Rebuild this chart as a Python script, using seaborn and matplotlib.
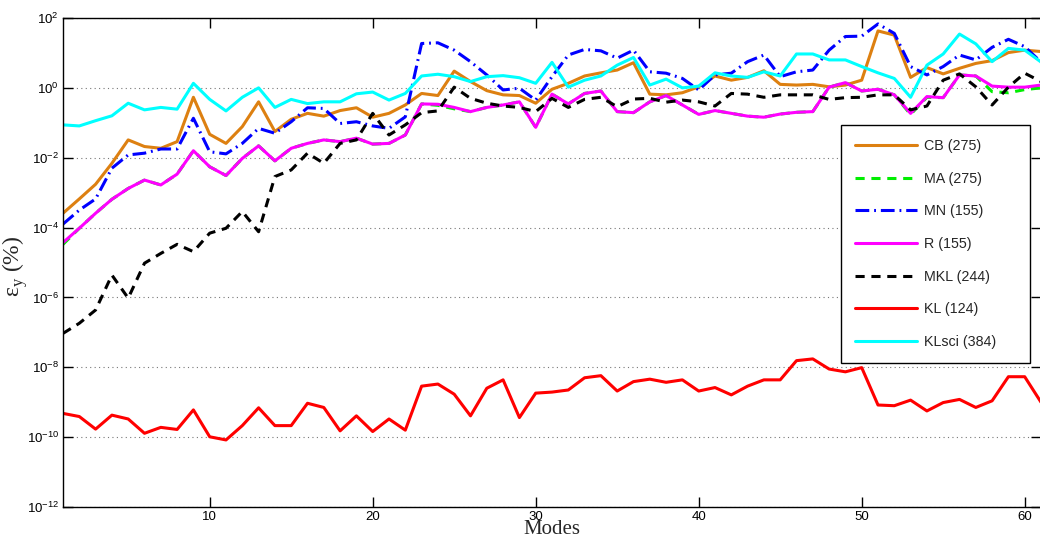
import numpy as np
import pandas as pd
import matplotlib
matplotlib.use("Agg")
import matplotlib.pyplot as plt
import seaborn as sns
from matplotlib.ticker import LogFormatterSciNotation, NullLocator, FixedLocator

# ---------------- data (log10 of error) ----------------
modes = list(range(1, 62))

cb_log10 = [-3.59, -3.18, -2.76, -2.16, -1.49, -1.68, -1.73, -1.54, -0.27, -1.33,
            -1.59, -1.11, -0.40, -1.25, -0.90, -0.73, -0.81, -0.65, -0.57, -0.84,
            -0.73, -0.49, -0.16, -0.22, 0.48, 0.18, -0.08, -0.20, -0.22, -0.44,
            -0.04, 0.13, 0.34, 0.43, 0.51, 0.72, -0.18, -0.20, -0.14, 0.03,
            0.34, 0.22, 0.30, 0.49, 0.10, 0.08, 0.10, 0.03, 0.08, 0.22,
            1.63, 1.51, 0.30, 0.58, 0.40, 0.56, 0.70, 0.78, 1.01, 1.08, 1.04]

ma_log10 = [-4.48, -4.02, -3.59, -3.19, -2.88, -2.64, -2.78, -2.47, -1.80, -2.26,
            -2.51, -2.02, -1.66, -2.09, -1.73, -1.59, -1.49, -1.54, -1.44, -1.61,
            -1.59, -1.35, -0.46, -0.50, -0.60, -0.68, -0.56, -0.49, -0.40, -1.13,
            -0.18, -0.46, -0.16, -0.09, -0.68, -0.71, -0.40, -0.22, -0.49, -0.76,
            -0.65, -0.73, -0.81, -0.84, -0.75, -0.70, -0.68, 0.02, 0.15, -0.09,
            -0.04, -0.20, -0.76, -0.27, -0.28, 0.37, 0.34, -0.11, -0.14, -0.05, 0.00]

mn_log10 = [-3.90, -3.50, -3.18, -2.30, -1.92, -1.87, -1.75, -1.75, -0.87, -1.83,
            -1.89, -1.59, -1.16, -1.30, -0.97, -0.57, -0.59, -1.02, -0.97, -1.09,
            -1.16, -0.83, 1.27, 1.29, 1.08, 0.75, 0.37, -0.06, -0.01, -0.35,
            0.32, 0.94, 1.10, 1.06, 0.85, 1.08, 0.46, 0.42, 0.27, -0.06,
            0.37, 0.42, 0.75, 0.94, 0.32, 0.46, 0.51, 1.08, 1.47, 1.48,
            1.83, 1.56, 0.61, 0.37, 0.61, 0.94, 0.80, 1.16, 1.39, 1.18, 0.74]

r_log10 = [-4.43, -4.02, -3.59, -3.19, -2.88, -2.64, -2.78, -2.47, -1.80, -2.26,
           -2.51, -2.02, -1.66, -2.09, -1.73, -1.59, -1.49, -1.54, -1.44, -1.61,
           -1.59, -1.35, -0.46, -0.47, -0.56, -0.68, -0.56, -0.49, -0.40, -1.13,
           -0.18, -0.46, -0.16, -0.09, -0.68, -0.71, -0.40, -0.22, -0.49, -0.76,
           -0.65, -0.73, -0.81, -0.84, -0.75, -0.70, -0.68, 0.02, 0.15, -0.09,
           -0.04, -0.20, -0.73, -0.25, -0.28, 0.37, 0.34, 0.05, 0.02, 0.02, 0.08]

mkl_log10 = [-7.03, -6.74, -6.36, -5.36, -6.02, -5.02, -4.74, -4.48, -4.69, -4.16,
             -4.02, -3.54, -4.12, -2.54, -2.35, -1.87, -2.16, -1.59, -1.49, -0.73,
             -1.35, -1.06, -0.71, -0.66, 0.02, -0.30, -0.44, -0.52, -0.56, -0.68,
             -0.30, -0.56, -0.33, -0.27, -0.54, -0.32, -0.30, -0.41, -0.35, -0.40,
             -0.52, -0.16, -0.18, -0.27, -0.20, -0.20, -0.20, -0.33, -0.28, -0.27,
             -0.20, -0.20, -0.63, -0.52, 0.22, 0.40, 0.03, -0.49, 0.02, 0.42, 0.18]

kl_log10 = [-9.32, -9.41, -9.77, -9.37, -9.48, -9.89, -9.72, -9.78, -9.22, -9.99,
            -10.08, -9.67, -9.16, -9.67, -9.67, -9.03, -9.15, -9.82, -9.39, -9.84,
            -9.48, -9.80, -8.54, -8.48, -8.77, -9.39, -8.60, -8.36, -9.44, -8.74,
            -8.71, -8.65, -8.30, -8.24, -8.68, -8.41, -8.34, -8.43, -8.36, -8.68,
            -8.58, -8.79, -8.54, -8.36, -8.36, -7.81, -7.76, -8.05, -8.13, -8.01,
            -9.08, -9.10, -8.94, -9.25, -9.01, -8.92, -9.15, -8.96, -8.27, -8.27, -9.00]

klsci_log10 = [-1.06, -1.09, -0.94, -0.80, -0.44, -0.63, -0.56, -0.61, 0.13, -0.33,
               -0.66, -0.27, 0.00, -0.56, -0.33, -0.45, -0.40, -0.40, -0.17, -0.12,
               -0.35, -0.16, 0.34, 0.39, 0.32, 0.18, 0.32, 0.35, 0.29, 0.13,
               0.73, 0.02, 0.22, 0.34, 0.65, 0.87, 0.08, 0.25, 0.00, 0.05,
               0.43, 0.34, 0.30, 0.46, 0.34, 0.97, 0.97, 0.80, 0.80, 0.61,
               0.43, 0.27, -0.27, 0.65, 0.97, 1.54, 1.26, 0.75, 1.13, 1.08, 0.74]

labels = ["CB (275)", "MA (275)", "MN (155)", "R (155)", "MKL (244)", "KL (124)", "KLsci (384)"]
series = [cb_log10, ma_log10, mn_log10, r_log10, mkl_log10, kl_log10, klsci_log10]
colors = ["#DD8011", "#00EE00", "#0000FF", "#FF00FF", "#000000", "#FF0000", "#00FFFF"]
dashes = [None, (3.0, 2.2), (4.5, 1.6, 0.6, 1.6), None, (3.0, 2.2), None, None]
ytick_exponents = [-12, -10, -8, -6, -4, -2, 0, 2]
xtick_values = [10, 20, 30, 40, 50, 60]

# ---------------- styling ----------------
sns.set_style("ticks")
plt.rcParams["font.family"] = ["Liberation Sans", "DejaVu Sans"]
plt.rcParams["axes.unicode_minus"] = True

fig = plt.figure(figsize=(10.40, 5.39), dpi=100)
ax = fig.add_axes([63 / 1040, 1 - 507 / 539, (1041 - 63) / 1040, (507 - 18) / 539])

lw = 2.2
for lab, vals, col, dsh in zip(labels, series, colors, dashes):
    df = pd.DataFrame({"Modes": modes, "err": np.power(10.0, vals)})
    kw = {}
    if dsh is not None:
        kw["dashes"] = dsh
    sns.lineplot(data=df, x="Modes", y="err", ax=ax, color=col, lw=lw, label=lab, **kw)

ax.set_yscale("log")
ax.set_xlim(1, 61)
ax.set_ylim(1e-12, 1e2)
ax.yaxis.set_major_locator(FixedLocator([10.0 ** e for e in ytick_exponents]))
ax.yaxis.set_major_formatter(LogFormatterSciNotation())
ax.yaxis.set_minor_locator(NullLocator())
ax.set_xticks(xtick_values)
ax.xaxis.set_minor_locator(NullLocator())

ax.tick_params(axis="both", which="major", direction="in", length=7, width=1,
               top=True, right=True, labelsize=9.5, pad=3, colors="black")
for sp in ax.spines.values():
    sp.set_color("black")
    sp.set_linewidth(1.0)
    sp.set_visible(True)

ax.yaxis.grid(True, linestyle=(0, (1, 3)), color="#777777", linewidth=0.8)
ax.xaxis.grid(False)

ax.set_xlabel("Modes", family="Liberation Serif", fontsize=15)
ax.xaxis.set_label_coords(0.5, -0.027)
ax.set_ylabel(r"ε$_\mathregular{y}$ (%)", family="Liberation Serif", fontsize=17)
ax.yaxis.set_label_coords(-0.034, 0.493)

leg = ax.legend(loc="upper left", bbox_to_anchor=(0.7955, 0.2965, 0.1933, 0.4847),
                mode="expand", borderaxespad=0,
                frameon=True, fancybox=False, edgecolor="black", framealpha=1,
                fontsize=10.3, handlelength=4.3, labelspacing=1.3, borderpad=1.0,
                handletextpad=0.5)
leg.get_frame().set_linewidth(1.0)

fig.savefig("out.png", dpi=100)
